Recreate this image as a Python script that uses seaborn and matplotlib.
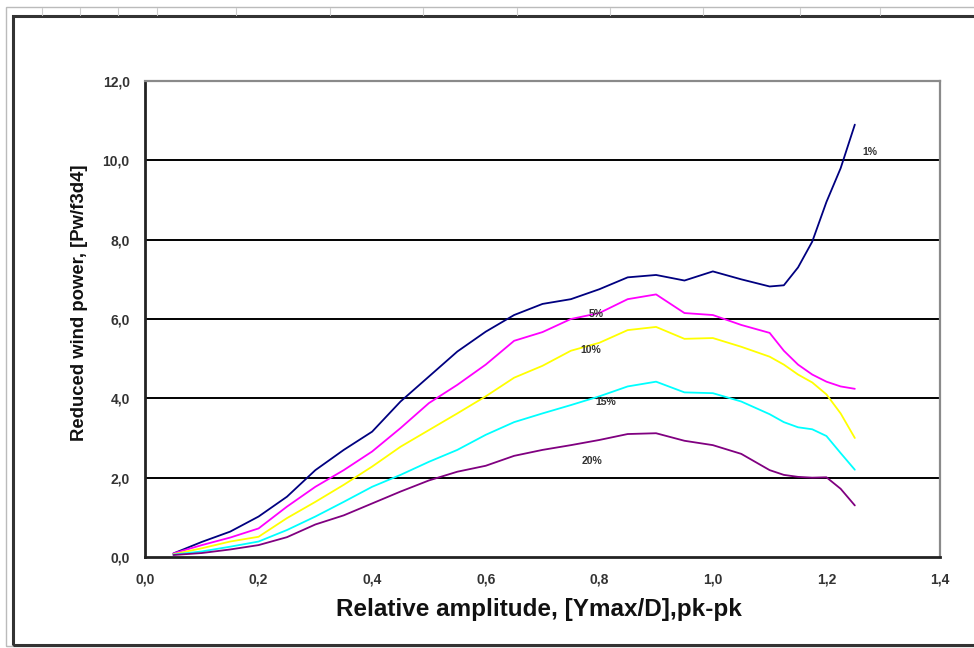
import matplotlib
matplotlib.use("Agg")
import matplotlib.pyplot as plt
from matplotlib.ticker import FuncFormatter
from matplotlib.patches import Rectangle
from matplotlib.lines import Line2D
import seaborn as sns
import pandas as pd

# ---- data ----
amplitude = [0.05, 0.10, 0.15, 0.20, 0.25, 0.30, 0.35, 0.40, 0.45, 0.50, 0.55, 0.60,
             0.65, 0.70, 0.75, 0.80, 0.85, 0.90, 0.95, 1.00, 1.05, 1.10,
             1.125, 1.15, 1.175, 1.20, 1.225, 1.25]
p1 = [0.09, 0.38, 0.64, 1.02, 1.52, 2.19, 2.70, 3.16, 3.92, 4.55, 5.18, 5.68,
      6.10, 6.38, 6.50, 6.75, 7.05, 7.11, 6.97, 7.20, 7.00, 6.82,
      6.85, 7.30, 7.95, 8.95, 9.80, 10.90]
p5 = [0.09, 0.30, 0.49, 0.72, 1.27, 1.77, 2.19, 2.66, 3.25, 3.88, 4.34, 4.85,
      5.45, 5.67, 6.00, 6.15, 6.50, 6.62, 6.15, 6.10, 5.85, 5.65,
      5.20, 4.85, 4.60, 4.42, 4.30, 4.24]
p10 = [0.07, 0.22, 0.39, 0.51, 0.98, 1.39, 1.82, 2.28, 2.78, 3.20, 3.62, 4.05,
       4.52, 4.82, 5.20, 5.40, 5.72, 5.80, 5.50, 5.52, 5.30, 5.05,
       4.85, 4.60, 4.40, 4.10, 3.62, 3.00]
p15 = [0.06, 0.14, 0.26, 0.39, 0.68, 1.02, 1.39, 1.77, 2.07, 2.40, 2.70, 3.08,
       3.40, 3.62, 3.83, 4.05, 4.30, 4.42, 4.15, 4.13, 3.92, 3.60,
       3.40, 3.27, 3.22, 3.05, 2.62, 2.20]
p20 = [0.05, 0.10, 0.19, 0.30, 0.50, 0.82, 1.05, 1.35, 1.65, 1.93, 2.15, 2.30,
       2.55, 2.70, 2.82, 2.95, 3.10, 3.12, 2.93, 2.82, 2.60, 2.19,
       2.07, 2.02, 2.00, 2.01, 1.72, 1.30]
series_names = ["1%", "5%", "10%", "15%", "20%"]
series_values = [p1, p5, p10, p15, p20]
label_x = [1.276, 0.794, 0.785, 0.812, 0.787]
label_y = [10.2, 6.13, 5.22, 3.9, 2.42]
x_ticks = [0.0, 0.2, 0.4, 0.6, 0.8, 1.0, 1.2, 1.4]
y_ticks = [0, 2, 4, 6, 8, 10, 12]

colors = {"1%": "#000080", "5%": "#ff00ff", "10%": "#ffff00",
          "15%": "#00ffff", "20%": "#800080"}

frames = []
for name, vals in zip(series_names, series_values):
    frames.append(pd.DataFrame({"amp": amplitude, "power": vals, "series": name}))
df = pd.concat(frames, ignore_index=True)

sns.set_style("white")
plt.rcParams["font.family"] = ["Liberation Sans", "DejaVu Sans"]

fig = plt.figure(figsize=(9.74, 6.48), dpi=100)
fig.patch.set_facecolor("white")
ax = fig.add_axes([145 / 974, 1 - 557 / 648, (940 - 145) / 974, (557 - 81) / 648])

# horizontal gridlines
for yv in y_ticks[1:-1]:
    ax.axhline(yv, color="black", lw=1.4, zorder=1)

sns.lineplot(data=df, x="amp", y="power", hue="series", palette=colors,
             hue_order=series_names, ax=ax, legend=False, lw=1.3, zorder=3,
             sort=False, estimator=None)

ax.set_xlim(0, 1.4)
ax.set_ylim(0, 12)
ax.set_xticks(x_ticks)
ax.set_yticks(y_ticks)
comma = FuncFormatter(lambda v, p: f"{v:.1f}".replace(".", ","))
ax.xaxis.set_major_formatter(comma)
ax.yaxis.set_major_formatter(comma)
ax.tick_params(axis="both", which="major", direction="out", length=5, width=1.2,
               color="#222222", labelsize=10, labelcolor="#333333", pad=6)
for lab in ax.get_xticklabels() + ax.get_yticklabels():
    lab.set_fontweight("bold")

for s in ["left", "bottom"]:
    ax.spines[s].set_color("#222222")
    ax.spines[s].set_linewidth(2.0)
for s in ["top", "right"]:
    ax.spines[s].set_visible(True)
    ax.spines[s].set_color("#8a8a8a")
    ax.spines[s].set_linewidth(1.6)

ax.set_xlabel("Relative amplitude, [Ymax/D],pk-pk", fontsize=17.5, fontweight="bold",
              color="#111111", labelpad=8)
ax.xaxis.set_label_coords(0.495, -0.086)
ax.set_ylabel("Reduced wind power, [Pw/f3d4]", fontsize=13.3, fontweight="bold",
              color="#111111")
ax.yaxis.set_label_coords(-0.072, 0.535)

for name, lx, ly in zip(series_names, label_x, label_y):
    ax.text(lx, ly, name, fontsize=7.5, fontweight="bold", color="#333333",
            ha="center", va="center", zorder=4)

# spreadsheet-style outer frames
fig.add_artist(Rectangle((6 / 974, 2 / 648), 1.2, 1 - 9 / 648, transform=fig.transFigure,
                         fill=False, edgecolor="#bbbbbb", lw=1.0))
fig.add_artist(Rectangle((13 / 974, 3 / 648), 1.2, 1 - 19 / 648, transform=fig.transFigure,
                         fill=False, edgecolor="#333333", lw=2.2))
for xc in [42, 80, 118, 157, 236, 330, 423, 517, 610, 703, 800, 880]:
    fig.add_artist(Line2D([xc / 974, xc / 974], [1 - 8 / 648, 1 - 15 / 648],
                          transform=fig.transFigure, color="#cccccc", lw=0.8))

fig.savefig("out.png", dpi=100, facecolor="white")
